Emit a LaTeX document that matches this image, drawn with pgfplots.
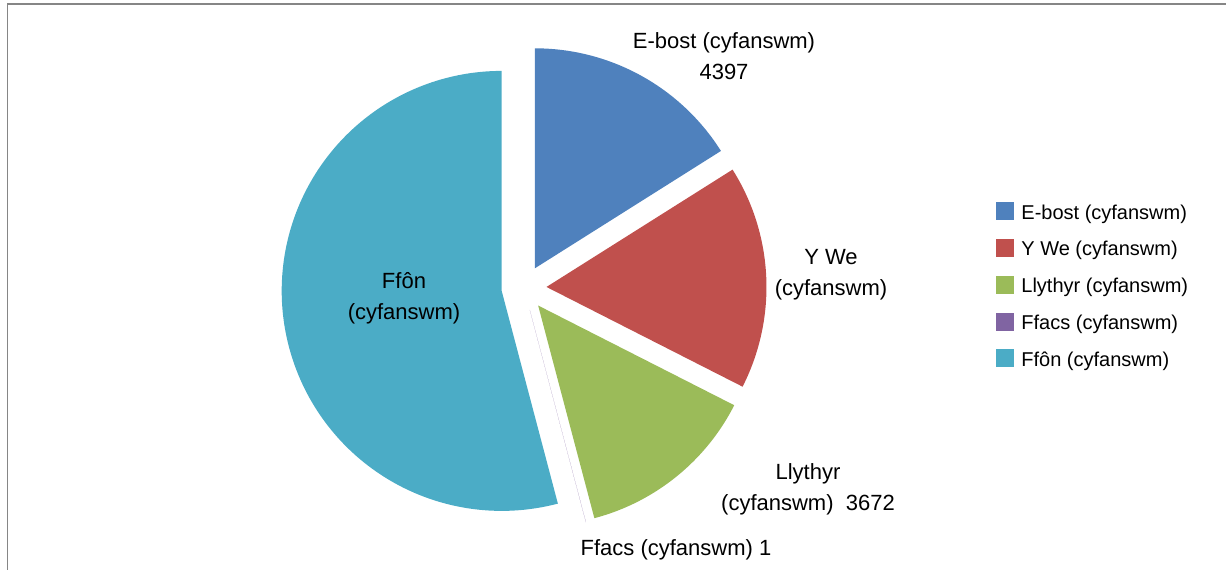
\documentclass[border=0pt]{standalone}
\usepackage{fontspec}
\setmainfont{Liberation Sans}
\usepackage{pgfplots}
\pgfplotsset{compat=1.18}
\definecolor{cblue}{HTML}{4F81BD}
\definecolor{cred}{HTML}{C0504D}
\definecolor{cgreen}{HTML}{9BBB59}
\definecolor{cpurple}{HTML}{8064A2}
\definecolor{ccyan}{HTML}{4BACC6}
\definecolor{frame}{HTML}{868686}
% values
\def\vA{4397}  % E-bost
\def\vB{4506}  % Y We
\def\vC{3672}  % Llythyr
\def\vD{1}     % Ffacs
\def\vE{14829} % Ffon
\def\Cx{524}\def\Cy{282}\def\R{220}\def\D{22.5}
\pgfmathsetmacro\T{\vA/1000+\vB/1000+\vC/1000+\vD/1000+\vE/1000}
\pgfmathsetmacro\aS{90}
\pgfmathsetmacro\aE{\aS-360*((\vA/1000)/\T)}
\pgfmathsetmacro\bE{\aE-360*((\vB/1000)/\T)}
\pgfmathsetmacro\cEnd{\bE-360*((\vC/1000)/\T)}
\pgfmathsetmacro\dEnd{\cEnd-360*((\vD/1000)/\T)}
\pgfmathsetmacro\eEnd{-270}
\pgfmathsetmacro\axo{\Cx+\D*cos((\aS+\aE)/2)}
\pgfmathsetmacro\ayo{\Cy+\D*sin((\aS+\aE)/2)}
\pgfmathsetmacro\bxo{\Cx+\D*cos((\aE+\bE)/2)}
\pgfmathsetmacro\byo{\Cy+\D*sin((\aE+\bE)/2)}
\pgfmathsetmacro\cxo{\Cx+\D*cos((\bE+\cEnd)/2)}
\pgfmathsetmacro\cyo{\Cy+\D*sin((\bE+\cEnd)/2)}
\pgfmathsetmacro\dxo{\Cx+\D*cos((\cEnd+\dEnd)/2)}
\pgfmathsetmacro\dyo{\Cy+\D*sin((\cEnd+\dEnd)/2)}
\pgfmathsetmacro\exo{\Cx+\D*cos((\dEnd+\eEnd)/2)}
\pgfmathsetmacro\eyo{\Cy+\D*sin((\dEnd+\eEnd)/2)}
\begin{document}
\begin{tikzpicture}
\useasboundingbox (0,0) rectangle (613bp,285bp);
\begin{axis}[
  at={(0,0)}, anchor=south west,
  scale only axis, width=613bp, height=285bp,
  xmin=0, xmax=1226, ymin=0, ymax=570,
  hide axis, clip=false,
  legend image code/.code={\fill[#1] (0bp,-3.5bp) rectangle (9bp,5.5bp); \path (12.5bp,0bp);},
  legend cell align=left,
  legend style={at={(axis cs:996,368)}, anchor=north west, draw=none, fill=none,
    inner sep=0pt, row sep=8.5bp, font=\fontsize{10bp}{12bp}\selectfont,
    nodes={inner sep=0pt}},
]
\addplot[forget plot, draw=frame, line width=0.8bp] coordinates {(7.5,0) (7.5,566) (1226,566)};
\addplot[fill=cblue, draw=none, domain=\aE:\aS, samples=120, variable=\t]
  ({\axo+\R*cos(\t)},{\ayo+\R*sin(\t)}) -- (axis cs:\axo,\ayo) -- cycle;
\addplot[fill=cred, draw=none, domain=\bE:\aE, samples=120, variable=\t]
  ({\bxo+\R*cos(\t)},{\byo+\R*sin(\t)}) -- (axis cs:\bxo,\byo) -- cycle;
\addplot[fill=cgreen, draw=none, domain=\cEnd:\bE, samples=120, variable=\t]
  ({\cxo+\R*cos(\t)},{\cyo+\R*sin(\t)}) -- (axis cs:\cxo,\cyo) -- cycle;
\addplot[fill=cpurple, draw=none, domain=\dEnd:\cEnd, samples=2, variable=\t]
  ({\dxo+\R*cos(\t)},{\dyo+\R*sin(\t)}) -- (axis cs:\dxo,\dyo) -- cycle;
\addplot[fill=ccyan, draw=none, domain=\eEnd:\dEnd, samples=240, variable=\t]
  ({\exo+\R*cos(\t)},{\eyo+\R*sin(\t)}) -- (axis cs:\exo,\eyo) -- cycle;
\legend{E-bost (cyfanswm), Y We (cyfanswm), Llythyr (cyfanswm), Ffacs (cyfanswm), Ffôn (cyfanswm)}
\begin{scope}[every node/.style={font=\fontsize{11bp}{15.5bp}\selectfont, align=center, inner sep=0pt}]
\node at (axis cs:724,514) {E-bost (cyfanswm)\\4397};
\node at (axis cs:831,295) {Y We\\(cyfanswm)};
\node at (axis cs:808,81) {Llythyr\\(cyfanswm)\ \ 3672};
\node at (axis cs:676,20) {Ffacs (cyfanswm) 1};
\node at (axis cs:404,272) {Ffôn\\(cyfanswm)};
\end{scope}
\end{axis}
\end{tikzpicture}
\end{document}
